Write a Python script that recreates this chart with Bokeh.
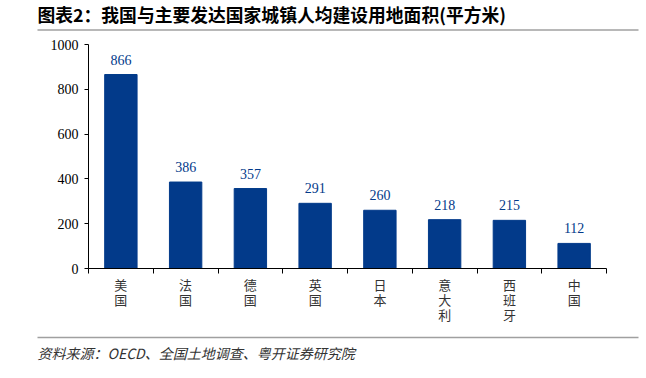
import numpy as np
from bokeh.plotting import figure
from bokeh.layouts import column, row
from bokeh.models import Range1d, FixedTicker, ColumnDataSource
from bokeh.core.properties import value
from bokeh.embed import file_html
from bokeh.resources import INLINE

categories = ["美国", "法国", "德国", "英国", "日本", "意大利", "西班牙", "中国"]
values = [866, 386, 357, 291, 260, 218, 215, 112]
y_ticks = [0, 200, 400, 600, 800, 1000]

title_text = "图表2：我国与主要发达国家城镇人均建设用地面积(平方米)"
source_text = "资料来源：OECD、全国土地调查、粤开证券研究院"

BAR = "#023A8A"
W = 640


def text_strip(height):
    f = figure(width=W, height=height, output_backend="svg", toolbar_location=None,
               x_range=Range1d(0, W), y_range=Range1d(height, 0),
               min_border=0, min_border_left=0, min_border_right=0,
               min_border_top=0, min_border_bottom=0)
    f.axis.visible = False
    f.grid.visible = False
    f.outline_line_color = None
    f.background_fill_color = "white"
    f.border_fill_color = "white"
    return f


# ---- title strip ----
top = text_strip(36)
top.text(x=[37], y=[13], text=[title_text], text_font=value("Noto Sans CJK SC"),
         text_font_size="17.8px", text_font_style="bold", text_baseline="middle",
         text_color="black")
top.segment(x0=[37], y0=[29.5], x1=[638], y1=[29.5], line_color="#a0a0a0", line_width=1.5)

# ---- main chart ----
xc = np.arange(len(categories)) + 0.5
src = ColumnDataSource(dict(x=xc, v=values, lbl=[str(v) for v in values]))

p = figure(width=W, height=294, output_backend="svg", toolbar_location=None,
           x_range=Range1d(0, len(categories)), y_range=Range1d(0, 1000),
           min_border_left=88, min_border_right=W - 606, min_border_top=8, min_border_bottom=62)
p.outline_line_color = None
p.xgrid.visible = False
p.ygrid.visible = False
p.background_fill_color = "white"
p.border_fill_color = "white"

p.vbar(x="x", top="v", width=0.5, source=src, color=BAR)
p.text(x="x", y="v", text="lbl", source=src, text_align="center", text_baseline="bottom",
       y_offset=-10, text_font=value("Liberation Serif"), text_font_size="14px", text_color=BAR)

p.yaxis.ticker = FixedTicker(ticks=y_ticks)
p.yaxis.axis_line_color = "black"
p.yaxis.major_tick_line_color = "black"
p.yaxis.major_tick_in = 0
p.yaxis.major_tick_out = 4
p.yaxis.minor_tick_line_color = None
p.yaxis.major_label_text_font = "Liberation Serif"
p.yaxis.major_label_text_font_size = "14px"
p.yaxis.major_label_text_color = "black"
p.yaxis.major_label_standoff = 6

p.xaxis.ticker = FixedTicker(ticks=list(xc), minor_ticks=list(range(len(categories) + 1)))
p.xaxis.major_label_overrides = {float(x): "\n".join(list(c)) for x, c in zip(xc, categories)}
p.xaxis.axis_line_color = "black"
p.xaxis.major_tick_line_color = None
p.xaxis.minor_tick_line_color = "black"
p.xaxis.minor_tick_in = 0
p.xaxis.minor_tick_out = 5
p.xaxis.major_label_text_font = "Noto Sans CJK SC"
p.xaxis.major_label_text_font_size = "13px"
p.xaxis.major_label_text_color = "#333333"
p.xaxis.major_label_text_line_height = 0.8
p.xaxis.major_label_standoff = 0

# ---- source strip ----
bot = text_strip(46)
bot.segment(x0=[37], y0=[7], x1=[638], y1=[7], line_color="#a0a0a0", line_width=1.5)
bot.text(x=[37], y=[22], text=[source_text], text_font=value("Noto Sans CJK SC"),
         text_font_size="14px", text_font_style="italic", text_baseline="middle",
         text_color="#333333")

layout = column(row(top), row(p), row(bot), spacing=0)
open("out.html", "w").write(file_html(layout, INLINE))
